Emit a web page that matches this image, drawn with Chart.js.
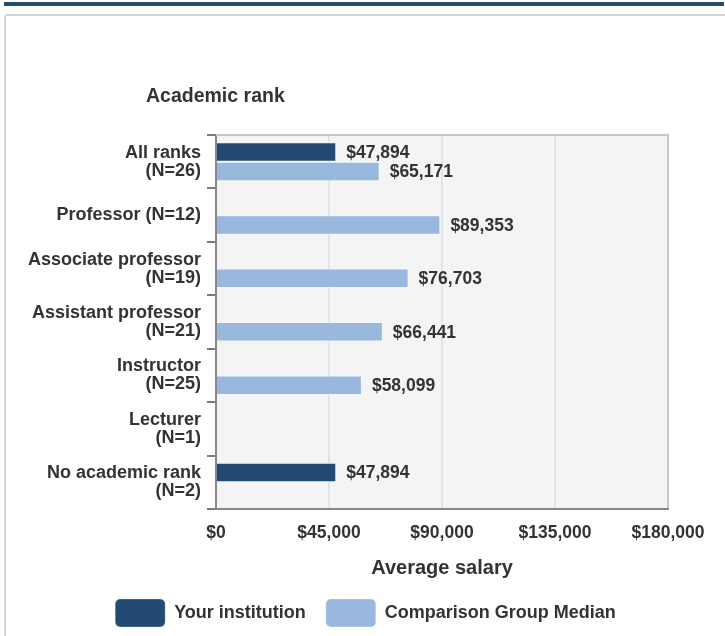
<!DOCTYPE html>
<html>
<head>
<meta charset="utf-8">
<script src="https://cdn.jsdelivr.net/npm/chart.js@4.4.1/dist/chart.umd.min.js"></script>
<style>
    html, body { margin: 0; padding: 0; background: #fff; }
    .wrap { position: relative; width: 725px; height: 636px; overflow: hidden; }
    .top-band { position: absolute; left: 4px; top: 2px; width: 720px; height: 4px; background: #234a73; }
    .panel { position: absolute; left: 4px; top: 14px; width: 740px; height: 700px; border: 2px solid #d3d3d3; border-radius: 3px; box-sizing: border-box; }
    #salaryChart { position: absolute; left: 0; top: 0; }
</style>
</head>
<body>
<div class="wrap">
    <div class="top-band"></div>
    <div class="panel"></div>
    <canvas id="salaryChart" width="725" height="636"></canvas>
</div>
<script>
const chartTitle = 'Academic rank';
const axisTitle = 'Average salary';
const ranks = [
    ['All ranks', '(N=26)'],
    'Professor (N=12)',
    ['Associate professor', '(N=19)'],
    ['Assistant professor', '(N=21)'],
    ['Instructor', '(N=25)'],
    ['Lecturer', '(N=1)'],
    ['No academic rank', '(N=2)']
];
const yourInstitution = [47894, null, null, null, null, null, 47894];
const comparisonMedian = [65171, 89353, 76703, 66441, 58099, null, null];
const salaryTicks = [0, 45000, 90000, 135000, 180000];

const fontFamily = "'Liberation Sans', Arial, sans-serif";
const textColor = '#333333';

const money = v => '$' + Math.round(v).toLocaleString('en-US');

document.addEventListener('DOMContentLoaded', () => {
    // plot background, top border and the "Academic rank" heading
    const frame = {
        id: 'frame',
        beforeDraw(chart) {
            const { ctx, chartArea: a } = chart;
            ctx.save();
            ctx.fillStyle = '#f4f4f4';
            ctx.fillRect(a.left, a.top, a.right - a.left, a.bottom - a.top);
            ctx.restore();
        },
        afterDraw(chart) {
            const { ctx, chartArea: a } = chart;
            ctx.save();
            ctx.strokeStyle = '#c8c8c8';
            ctx.lineWidth = 2;
            ctx.beginPath();
            ctx.moveTo(a.left, a.top);
            ctx.lineTo(a.right + 1, a.top);
            ctx.stroke();
            ctx.fillStyle = textColor;
            ctx.font = 'bold 19.5px ' + fontFamily;
            ctx.textBaseline = 'alphabetic';
            ctx.fillText(chartTitle, 146, 102);
            ctx.restore();
        }
    };

    // value labels at the end of each bar
    const valueLabels = {
        id: 'valueLabels',
        afterDatasetsDraw(chart) {
            const { ctx } = chart;
            ctx.save();
            ctx.fillStyle = textColor;
            ctx.font = 'bold 17.5px ' + fontFamily;
            ctx.textBaseline = 'middle';
            ctx.textAlign = 'left';
            chart.data.datasets.forEach((ds, i) => {
                chart.getDatasetMeta(i).data.forEach((bar, j) => {
                    const v = ds.data[j];
                    if (v == null) return;
                    ctx.fillText(money(v), bar.x + 10, bar.y + 1);
                });
            });
            ctx.restore();
        }
    };

    new Chart(document.getElementById('salaryChart'), {
        type: 'bar',
        data: {
            labels: ranks,
            datasets: [
                {
                    label: 'Your institution',
                    data: yourInstitution,
                    backgroundColor: '#234a73',
                    borderColor: 'rgba(255,255,255,0.3)',
                    borderWidth: 1,
                    categoryPercentage: 0.73,
                    barPercentage: 1
                },
                {
                    label: 'Comparison Group Median',
                    data: comparisonMedian,
                    backgroundColor: '#98b9dd',
                    borderColor: 'rgba(255,255,255,0.3)',
                    borderWidth: 1,
                    categoryPercentage: 0.73,
                    barPercentage: 1
                }
            ]
        },
        options: {
            indexAxis: 'y',
            responsive: false,
            animation: false,
            devicePixelRatio: 1,
            layout: { padding: { top: 135, right: 0, left: 6, bottom: -1 } },
            plugins: {
                legend: {
                    position: 'bottom',
                    labels: {
                        boxWidth: 50,
                        boxHeight: 28,
                        useBorderRadius: true,
                        borderRadius: 5,
                        padding: 20,
                        color: textColor,
                        font: { family: fontFamily, size: 18, weight: 'bold' }
                    }
                },
                tooltip: { enabled: false }
            },
            scales: {
                x: {
                    min: 0,
                    max: 180000,
                    afterBuildTicks: scale => {
                        scale.ticks = salaryTicks.map(v => ({ value: v }));
                    },
                    grid: {
                        drawTicks: false,
                        lineWidth: 2,
                        color: c => c.tick && c.tick.value === 180000 ? '#c8c8c8' : '#dce6f1'
                    },
                    border: { color: '#888888', width: 2 },
                    ticks: {
                        padding: 14,
                        color: textColor,
                        font: { family: fontFamily, size: 17.5, weight: 'bold' },
                        callback: v => money(v)
                    },
                    title: {
                        display: true,
                        text: axisTitle,
                        color: textColor,
                        font: { family: fontFamily, size: 20, weight: 'bold' },
                        padding: { top: -2, bottom: -1 }
                    }
                },
                y: {
                    afterFit: scale => { scale.width = 210; },
                    grid: {
                        drawOnChartArea: false,
                        offset: true,
                        tickLength: 9,
                        lineWidth: 2,
                        color: '#7a7a7a'
                    },
                    border: { color: '#888888', width: 2 },
                    ticks: {
                        padding: 6,
                        color: textColor,
                        font: { family: fontFamily, size: 18, weight: 'bold', lineHeight: '18px' }
                    }
                },
                // empty right-hand gutter so the legend can centre on the full width
                gutter: {
                    type: 'linear',
                    axis: 'y',
                    position: 'right',
                    grid: { display: false },
                    border: { display: false },
                    ticks: { display: false },
                    afterFit: scale => { scale.width = 57; }
                }
            }
        },
        plugins: [frame, valueLabels]
    });
});
</script>
</body>
</html>
